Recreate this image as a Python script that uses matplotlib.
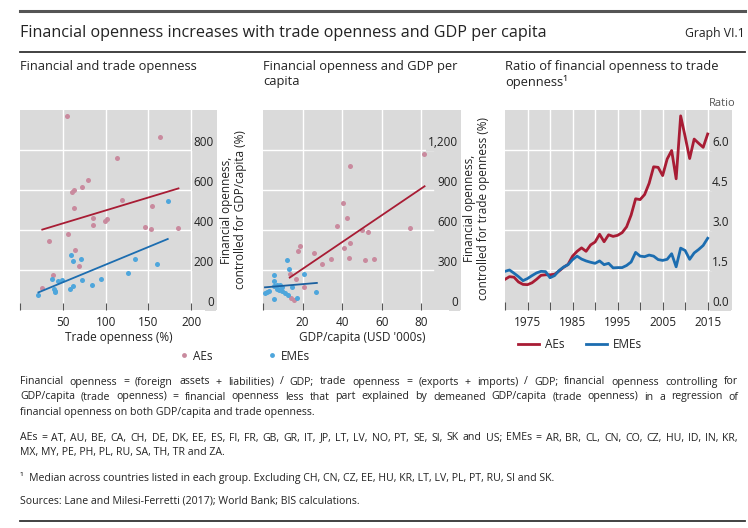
import matplotlib
matplotlib.use("Agg")
from matplotlib import pyplot as plt
from matplotlib.lines import Line2D
from matplotlib import transforms

plt.rcParams['font.family'] = ['Open Sans', 'DejaVu Sans']

# panel 1: financial openness (controlled for GDP/capita) vs trade openness
ae_trade = [54.7, 163.7, 113, 79, 72.7, 62.5, 60.2, 118.8, 62.9, 154, 85.5, 101.6,
            99.6, 85, 146.5, 152.7, 184, 55.9, 34.4, 64, 68.4, 39, 26.2]
ae_fin_t = [968, 865, 760, 650, 617, 602, 590, 552, 508, 520, 460, 453,
            443, 423, 417, 403, 412, 378, 345, 298, 218, 173, 112]
eme_trade = [172.3, 59, 61.3, 71, 134, 159.4, 126, 37.5, 43.8, 49.6, 95, 71.9,
             84, 62, 57.8, 40, 40.6, 41.4, 21.5]
eme_fin_t = [543, 277, 245, 257, 253, 230, 187, 157, 147, 148, 153, 150,
             127, 122, 107, 107, 97, 88, 77]
ae_trade_fit_x, ae_trade_fit_y = [26, 185], [402, 608]
eme_trade_fit_x, eme_trade_fit_y = [21.5, 172.5], [88, 355]

# panel 2: financial openness (controlled for trade openness) vs GDP/capita
ae_gdp = [81.4, 43.9, 40.4, 42.4, 37.5, 74.3, 50.2, 53.2, 43.8, 41, 18.9, 17.7,
          25.7, 30, 34.3, 43.2, 51.4, 56.1, 13.5, 16.9, 20.6, 13.9, 15.7]
ae_fin_g = [1170, 1078, 800, 688, 630, 618, 598, 585, 503, 468, 480, 440,
            425, 345, 385, 390, 378, 380, 270, 230, 173, 90, 75]
eme_gdp = [12.2, 13.3, 5.4, 20.9, 5.7, 7.3, 8.6, 5.4, 9.5, 14.5, 7.1, 8.1,
           9.6, 11, 12.5, 1.9, 3, 1, 27, 5.6, 17.4]
eme_fin_g = [372, 305, 260, 268, 215, 190, 190, 178, 170, 175, 160, 150,
             140, 125, 115, 133, 140, 128, 133, 85, 90]
ae_gdp_fit_x, ae_gdp_fit_y = [13.5, 81.6], [243, 928]
eme_gdp_fit_x, eme_gdp_fit_y = [1, 27.2], [170, 203]

# panel 3: median ratio of financial openness to trade openness
years = list(range(1970, 2016))
ae_ratio = [1.15, 1.25, 1.23, 1.05, 0.96, 0.95, 1.02, 1.15, 1.30, 1.32,
            1.32, 1.34, 1.46, 1.60, 1.71, 2.02, 2.20, 2.33, 2.20, 2.44,
            2.55, 2.84, 2.56, 2.82, 2.76, 2.80, 2.90, 3.12, 3.56, 4.17,
            4.14, 4.33, 4.75, 5.37, 5.35, 5.04, 5.66, 5.98, 4.92, 7.28,
            6.50, 5.68, 6.41, 6.25, 6.10, 6.60]
eme_ratio = [1.45, 1.50, 1.38, 1.25, 1.10, 1.18, 1.29, 1.39, 1.45, 1.44,
             1.21, 1.29, 1.48, 1.61, 1.70, 1.89, 2.02, 1.91, 1.84, 1.79,
             1.75, 1.84, 1.70, 1.75, 1.58, 1.59, 1.59, 1.67, 1.80, 2.16,
             2.02, 2.00, 2.06, 2.02, 1.89, 1.86, 1.90, 2.11, 1.62, 2.32,
             2.23, 1.90, 2.14, 2.27, 2.42, 2.69]

GRAY = '#dadada'
AE_DOT = '#c98a9e'
EME_DOT = '#4ea6dc'
RED = '#a81c34'
BLUE = '#1c6db0'
TXT = '#222222'
NOTE = 7.6

W, H = 748, 528
fig = plt.figure(figsize=(7.48, 5.28), dpi=100)


def fx(px):
    return px / W


def fy(py):
    return 1 - py / H


def rule(y, lw, color):
    fig.add_artist(Line2D([fx(20), fx(745)], [fy(y), fy(y)], transform=fig.transFigure,
                          lw=lw, color=color))


def style_axes(ax, xticks, xlabels, yticks, ylabels, grid_end):
    ax.set_facecolor(GRAY)
    for s in ax.spines.values():
        s.set_visible(False)
    ax.set_xticks(xticks)
    ax.set_xticklabels(xlabels, fontsize=8.5, color=TXT)
    ax.tick_params(axis='x', direction='in', length=5, width=0.8, color='#555555', pad=4)
    ax.set_yticks([])
    for x in xticks[1:]:
        ax.axvline(x, color='white', lw=1.0, zorder=0.5)
    tr = transforms.offset_copy(ax.get_yaxis_transform(), fig=fig, y=1.0, units='points')
    for v, lab in zip(yticks, ylabels):
        if v != 0:
            ax.axhline(v, xmax=grid_end, color='white', lw=1.0, zorder=0.5)
        ax.text(0.985, v, lab, transform=tr, ha='right', va='bottom', fontsize=8.5,
                color=TXT, zorder=3, bbox=dict(fc=GRAY, ec='none', pad=1.5))


def justify(words_line, y, x0, x1, size):
    r = fig.canvas.get_renderer()
    words = words_line.split(' ')
    texts = [fig.text(0, fy(y), w, fontsize=size, color=TXT, va='center') for w in words]
    widths = [t.get_window_extent(r).width for t in texts]
    gap = ((x1 - x0) - sum(widths)) / (len(words) - 1)
    x = x0
    for t, w in zip(texts, widths):
        t.set_x(fx(x))
        x += w + gap


# header
rule(11, 2.2, '#555555')
fig.text(fx(20), fy(33), 'Financial openness increases with trade openness and GDP per capita',
         fontsize=11.6, color=TXT, va='center')
fig.text(fx(745), fy(33), 'Graph VI.1', fontsize=8.8, color=TXT, va='center', ha='right')
rule(52.5, 1.3, '#333333')

head_tr = transforms.offset_copy(fig.transFigure, fig=fig, y=6.5, units='points')
fig.text(fx(20), fy(69), 'Financial and trade openness', fontsize=9.3, color=TXT, va='top',
         transform=head_tr)
fig.text(fx(263), fy(69), 'Financial openness and GDP per\ncapita', fontsize=9.3, color=TXT,
         va='top', linespacing=1.2, transform=head_tr)
fig.text(fx(505), fy(69), 'Ratio of financial openness to trade\nopenness\u00b9', fontsize=9.3,
         color=TXT, va='top', linespacing=1.2, transform=head_tr)

bottom, height = fy(310), 200 / H

# panel 1
ax1 = fig.add_axes([fx(20), bottom, 197 / W, height])
ax1.set_xlim(0, 230)
ax1.set_ylim(0, 1000)
style_axes(ax1, [0, 50, 100, 150, 200], ['', '50', '100', '150', '200'],
           [0, 200, 400, 600, 800], ['0', '200', '400', '600', '800'], 200 / 230)
ax1.scatter(ae_trade, ae_fin_t, s=13, color=AE_DOT, lw=0, zorder=2)
ax1.scatter(eme_trade, eme_fin_t, s=13, color=EME_DOT, lw=0, zorder=2)
ax1.plot(ae_trade_fit_x, ae_trade_fit_y, color=RED, lw=1.3, zorder=2.5)
ax1.plot(eme_trade_fit_x, eme_trade_fit_y, color=BLUE, lw=1.3, zorder=2.5)
ax1.set_xlabel('Trade openness (%)', fontsize=8.5, color=TXT, labelpad=2)
fig.text(fx(234), fy(210), 'Financial openness,\ncontrolled for GDP/capita (%)', rotation=90,
         ha='center', va='center', fontsize=8.5, color=TXT, linespacing=1.1)

# panel 2
ax2 = fig.add_axes([fx(263), bottom, 198 / W, height])
ax2.set_xlim(0, 100)
ax2.set_ylim(0, 1500)
style_axes(ax2, [0, 20, 40, 60, 80], ['', '20', '40', '60', '80'],
           [0, 300, 600, 900, 1200], ['0', '300', '600', '900', '1,200'], 0.86)
ax2.scatter(ae_gdp, ae_fin_g, s=13, color=AE_DOT, lw=0, zorder=2)
ax2.scatter(eme_gdp, eme_fin_g, s=13, color=EME_DOT, lw=0, zorder=2)
ax2.plot(ae_gdp_fit_x, ae_gdp_fit_y, color=RED, lw=1.3, zorder=2.5)
ax2.plot(eme_gdp_fit_x, eme_gdp_fit_y, color='#1a5f9e', lw=1.3, zorder=2.5)
ax2.set_xlabel("GDP/capita (USD '000s)", fontsize=8.5, color=TXT, labelpad=2)
fig.text(fx(476), fy(208), 'Financial openness,\ncontrolled for trade openness (%)', rotation=90,
         ha='center', va='center', fontsize=8.5, color=TXT, linespacing=1.1)

dots = [Line2D([], [], marker='o', ls='', ms=3.5, color=AE_DOT, mec='none'),
        Line2D([], [], marker='o', ls='', ms=3.5, color=EME_DOT, mec='none')]
fig.legend(dots, ['AEs', 'EMEs'], loc='center', bbox_to_anchor=(fx(244), fy(356)), ncol=2,
           frameon=False, fontsize=8.5, handletextpad=0.3, columnspacing=4.5, handlelength=1.0,
           labelcolor=TXT)

# panel 3
ax3 = fig.add_axes([fx(505), bottom, 227 / W, height])
ax3.set_xlim(1970, 2020.4)
ax3.set_ylim(0, 7.5)
tick_years = list(range(1970, 2016, 5))
style_axes(ax3, tick_years, [str(y) if y % 10 == 5 else '' for y in tick_years],
           [0, 1.5, 3.0, 4.5, 6.0], ['0.0', '1.5', '3.0', '4.5', '6.0'], 45.8 / 50.4)
ax3.tick_params(axis='x', length=6)
ax3.plot(years, ae_ratio, color=RED, lw=2.0, zorder=2, label='AEs')
ax3.plot(years, eme_ratio, color=BLUE, lw=2.0, zorder=2, label='EMEs')
ax3.legend(loc='center', bbox_to_anchor=(fx(580), fy(345)), bbox_transform=fig.transFigure,
           ncol=2, frameon=False, fontsize=8.5, handlelength=1.8, handletextpad=0.5,
           columnspacing=1.8, labelcolor=TXT)
fig.text(fx(735), fy(103), 'Ratio', ha='right', va='center', fontsize=8, color='#555555')

# notes
right = 738
justify('Financial openness = (foreign assets + liabilities) / GDP; trade openness = (exports + '
        'imports) / GDP; financial openness controlling for', 382, 20, right, NOTE)
justify('GDP/capita (trade openness) = financial openness less that part explained by demeaned '
        'GDP/capita (trade openness) in a regression of', 397, 20, right, NOTE)
fig.text(fx(20), fy(412), 'financial openness on both GDP/capita and trade openness.',
         fontsize=NOTE, color=TXT, va='center')
justify('AEs = AT, AU, BE, CA, CH, DE, DK, EE, ES, FI, FR, GB, GR, IT, JP, LT, LV, NO, PT, SE, SI, '
        'SK and US; EMEs = AR, BR, CL, CN, CO, CZ, HU, ID, IN, KR,', 438, 20, right, NOTE)
fig.text(fx(20), fy(453), 'MX, MY, PE, PH, PL, RU, SA, TH, TR and ZA.', fontsize=NOTE, color=TXT,
         va='center')
fig.text(fx(20), fy(478), '\u00b9  Median across countries listed in each group. Excluding CH, CN, '
         'CZ, EE, HU, KR, LT, LV, PL, PT, RU, SI and SK.', fontsize=NOTE, color=TXT, va='center')
fig.text(fx(20), fy(501), 'Sources: Lane and Milesi-Ferretti (2017); World Bank; BIS calculations.',
         fontsize=NOTE, color=TXT, va='center')
rule(521, 1.3, '#333333')

fig.savefig('out.png', dpi=100)
